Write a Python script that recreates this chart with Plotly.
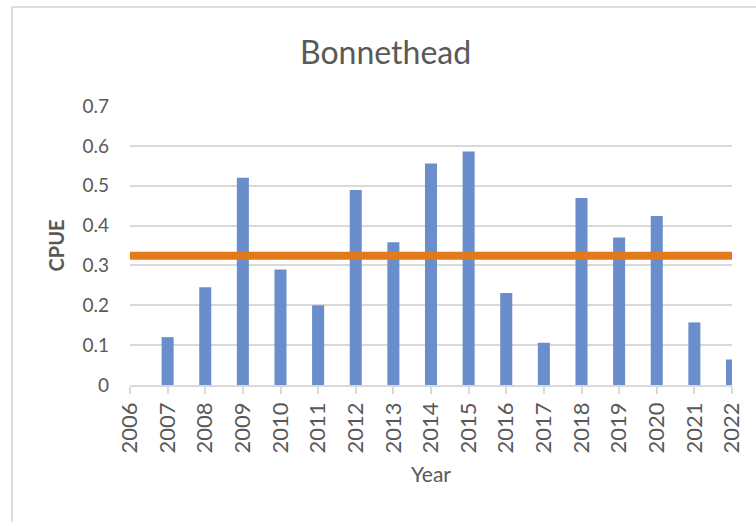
import plotly.graph_objects as go

# CPUE by survey year
years = [2007, 2008, 2009, 2010, 2011, 2012, 2013, 2014,
         2015, 2016, 2017, 2018, 2019, 2020, 2021, 2022]
cpue = [0.12, 0.245, 0.52, 0.29, 0.20, 0.489, 0.358, 0.556,
        0.586, 0.231, 0.106, 0.469, 0.370, 0.424, 0.157, 0.064]
tick_years = list(range(2006, 2023))
y_ticks = [0, 0.1, 0.2, 0.3, 0.4, 0.5, 0.6, 0.7]
y_tick_text = ["0", "0.1", "0.2", "0.3", "0.4", "0.5", "0.6", "0.7"]

# long-term mean across all years
mean_cpue = sum(cpue) / len(cpue)

W, H = 756, 522
ML, MR, MT, MB = 130, 19, 106, 137
PW, PH = W - ML - MR, H - MT - MB

TEXT = "#595959"
GRID = "#d9d9d9"
FONT = "Lato"

fig = go.Figure()
fig.add_trace(go.Bar(
    x=years, y=cpue, width=0.32,
    marker=dict(color="#6a8ecb", line=dict(width=0)),
    showlegend=False,
))
fig.add_trace(go.Scatter(
    x=[tick_years[0], tick_years[-1]], y=[mean_cpue, mean_cpue],
    mode="lines", line=dict(color="#e2791a", width=8),
    cliponaxis=False, showlegend=False,
))


def px_x(px):
    return (px - ML) / PW


def px_y(py):
    return (H - MB - py) / PH


# chart-area frame
fig.add_shape(type="rect", xref="paper", yref="paper",
              x0=px_x(11), x1=px_x(800), y0=px_y(560), y1=px_y(7),
              line=dict(color="#d4d4d4", width=1.5), fillcolor="rgba(0,0,0,0)",
              layer="below")

fig.add_annotation(text="Bonnethead", xref="paper", yref="paper",
                   x=px_x(388), y=px_y(51), xanchor="center", yanchor="middle",
                   showarrow=False, font=dict(family=FONT, size=32, color=TEXT))

fig.update_layout(
    width=W, height=H,
    margin=dict(l=ML, r=MR, t=MT, b=MB, pad=0),
    paper_bgcolor="white", plot_bgcolor="white",
    font=dict(family=FONT, color=TEXT),
    xaxis=dict(
        range=[tick_years[0], tick_years[-1]],
        tickmode="array", tickvals=tick_years, ticktext=[str(y) for y in tick_years],
        tickangle=-90, tickfont=dict(size=22, color=TEXT),
        ticks="outside", ticklen=7, tickcolor=GRID, tickwidth=1.5,
        showline=True, linecolor=GRID, linewidth=1.5,
        showgrid=False, zeroline=False,
        title=dict(text="Year", font=dict(size=21, color=TEXT), standoff=15),
    ),
    yaxis=dict(
        range=[0, 0.7],
        tickmode="array", tickvals=y_ticks, ticktext=y_tick_text,
        tickfont=dict(size=19, color=TEXT), ticklabelstandoff=20,
        showgrid=True, gridcolor=GRID, gridwidth=1.5,
        zeroline=False, showline=False, ticks="",
        title=dict(text="<b>CPUE</b>", font=dict(size=20, color=TEXT), standoff=12),
    ),
)

fig.write_html("out.html")
